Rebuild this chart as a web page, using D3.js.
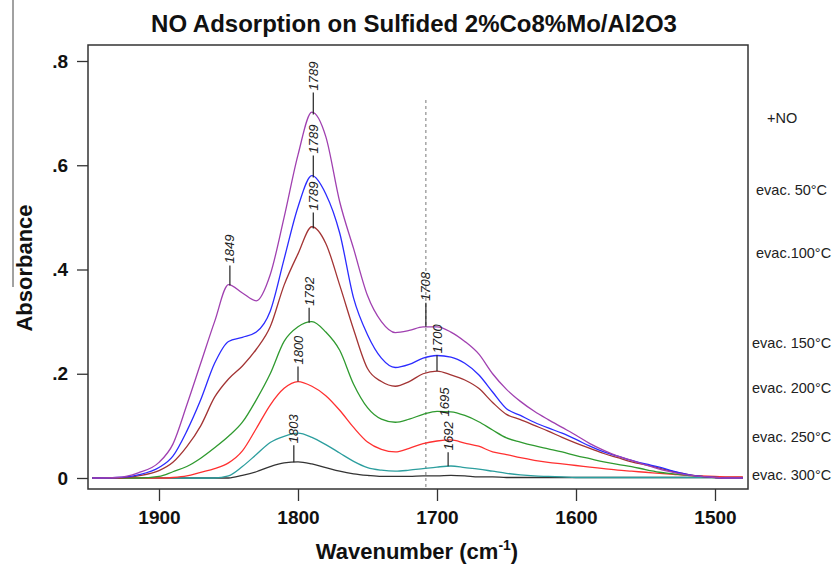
<html>
    <head>
        <script src="https://d3js.org/d3.v7.min.js"></script>
        <style>
            body{ margin:0; background:#fff; }
            svg{ font-family: "Liberation Sans", Arial, sans-serif; }
        </style>
    </head>
    <body>
        <svg id="svg" width="837" height="566"></svg>
        <script>
            // wavenumber grid (cm-1), shared by all spectra
            var wavenumbers = [1948,1930,1915,1900,1890,1880,1870,1860,1850,1840,1830,1820,1810,1800,1790,1780,1770,1760,1750,1740,1730,1720,1710,1700,1690,1680,1670,1660,1650,1640,1630,1620,1610,1600,1590,1580,1570,1560,1550,1540,1530,1520,1510,1500,1490,1480];

            var seriesNames = ["+NO","evac. 50\u00B0C","evac.100\u00B0C","evac. 150\u00B0C","evac. 200\u00B0C","evac. 250\u00B0C","evac. 300\u00B0C"];

            var absNO     = [0,0.001,0.01,0.03,0.065,0.14,0.22,0.30,0.371,0.355,0.34,0.39,0.50,0.62,0.702,0.655,0.53,0.44,0.35,0.30,0.279,0.283,0.29,0.29,0.28,0.262,0.238,0.20,0.17,0.147,0.128,0.112,0.097,0.082,0.066,0.053,0.042,0.034,0.025,0.017,0.011,0.006,0.003,0.001,0,0];
            var absEvac50  = [0,0.001,0.006,0.02,0.042,0.09,0.15,0.22,0.262,0.27,0.28,0.32,0.42,0.52,0.58,0.545,0.47,0.345,0.275,0.23,0.212,0.218,0.23,0.235,0.232,0.22,0.198,0.165,0.133,0.12,0.107,0.096,0.086,0.074,0.061,0.05,0.042,0.034,0.027,0.021,0.013,0.007,0.003,0.001,0,0];
            var absEvac100 = [0,0,0.004,0.014,0.03,0.06,0.10,0.155,0.19,0.215,0.247,0.29,0.37,0.43,0.482,0.45,0.37,0.285,0.21,0.185,0.176,0.185,0.20,0.205,0.198,0.188,0.172,0.145,0.122,0.112,0.101,0.09,0.078,0.067,0.057,0.047,0.039,0.031,0.025,0.019,0.012,0.007,0.003,0.001,0,0];
            var absEvac150 = [0,0,0,0.003,0.012,0.022,0.038,0.058,0.08,0.107,0.15,0.20,0.262,0.29,0.30,0.28,0.245,0.18,0.135,0.113,0.107,0.113,0.122,0.128,0.127,0.12,0.108,0.092,0.077,0.069,0.062,0.056,0.05,0.043,0.037,0.031,0.026,0.022,0.016,0.011,0.008,0.005,0.003,0.001,0,0];
            var absEvac200 = [0,0,0,0,0.001,0.004,0.011,0.018,0.029,0.052,0.095,0.14,0.172,0.185,0.176,0.158,0.13,0.097,0.069,0.055,0.05,0.057,0.066,0.071,0.073,0.067,0.061,0.05,0.045,0.039,0.034,0.03,0.027,0.024,0.021,0.018,0.015,0.013,0.011,0.009,0.007,0.005,0.004,0.003,0.002,0.002];
            var absEvac250 = [0,0,0,0,0,0,0,0,0.004,0.022,0.045,0.068,0.08,0.086,0.078,0.064,0.048,0.032,0.02,0.015,0.013,0.015,0.018,0.021,0.023,0.02,0.017,0.013,0.009,0.006,0.004,0.003,0.002,0.001,0.001,0.001,0.001,0.001,0.001,0.001,0.001,0.001,0.001,0.001,0.001,0.001];
            var absEvac300 = [0,0,0,0,0,0,0,0,0,0.005,0.012,0.022,0.029,0.031,0.027,0.02,0.013,0.008,0.005,0.003,0.003,0.003,0.004,0.004,0.005,0.004,0.002,0.002,0.001,0.001,0.001,0.001,0.001,0.001,0.001,0.001,0.001,0.001,0.001,0.001,0.001,0.001,0.001,0.001,0.001,0.001];

            var allSeries = [absNO, absEvac50, absEvac100, absEvac150, absEvac200, absEvac250, absEvac300];
            var seriesColors = ["#a040b0","#2b2bff","#a33434","#2f9a2f","#ff3030","#2c9e9e","#333333"];

            var yTicks = [0, 0.2, 0.4, 0.6, 0.8];
            var yTickLabels = ["0", ".2", ".4", ".6", ".8"];
            var xTicks = [1900, 1800, 1700, 1600, 1500];

            // peak markers: label text, wavenumber, which spectrum it sits on
            var peakLabels = [
                {text:"1849", wn:1849, series:0},
                {text:"1789", wn:1789, series:0},
                {text:"1789", wn:1789, series:1},
                {text:"1789", wn:1789, series:2},
                {text:"1792", wn:1792, series:3},
                {text:"1800", wn:1800, series:4},
                {text:"1803", wn:1803, series:6},
                {text:"1708", wn:1708, series:0},
                {text:"1700", wn:1700, series:2},
                {text:"1695", wn:1695, series:3},
                {text:"1692", wn:1692, series:5}
            ];
            var stemLen = [20, 22, 22, 16, 15, 15, 17, 24, 16, -7, 14];
            var dashedWn = 1708;

            // legend text y positions (px), right of the frame
            var legendY = [118, 190, 253, 343, 388, 437, 475];
            var legendX = [767, 756, 756, 752, 752, 752, 752];

            var svg = d3.select("svg");
            var frame = {left: 88, right: 748, top: 45, bottom: 489};

            var x = d3.scaleLinear().domain([1900, 1500]).range([159, 715]);
            var y = d3.scaleLinear().domain([0, 0.8]).range([478, 61]);

            // stray crop line on the left edge of the original figure
            svg.append("line").attr("x1",13).attr("x2",13).attr("y1",0).attr("y2",287)
                .attr("stroke","#444").attr("stroke-width",1);

            // title
            svg.append("text").attr("x",414).attr("y",32)
                .attr("text-anchor","middle")
                .attr("font-size","24px").attr("font-weight","bold")
                .attr("fill","#111")
                .text("NO Adsorption on Sulfided 2%Co8%Mo/Al2O3");

            // dashed reference line
            svg.append("line")
                .attr("x1",x(dashedWn)).attr("x2",x(dashedWn))
                .attr("y1",100).attr("y2",frame.bottom)
                .attr("stroke","#777").attr("stroke-width",1)
                .attr("stroke-dasharray","3,3");

            var line = d3.line()
                .x(function(d){ return x(d[0]); })
                .y(function(d){ return y(d[1]); })
                .curve(d3.curveMonotoneX);

            // draw bottom series first so the top ones sit over them
            for (var s = allSeries.length - 1; s >= 0; s--) {
                var pts = wavenumbers.map(function(w, i){ return [w, allSeries[s][i]]; });
                svg.append("path").datum(pts)
                    .attr("d", line)
                    .attr("fill","none")
                    .attr("stroke", seriesColors[s])
                    .attr("stroke-width",1.3);
            }

            function valueAt(series, wn){
                for (var i = 0; i < wavenumbers.length - 1; i++) {
                    var w0 = wavenumbers[i], w1 = wavenumbers[i+1];
                    if (wn <= w0 && wn >= w1) {
                        var t = (w0 - wn) / (w0 - w1);
                        return series[i] + t * (series[i+1] - series[i]);
                    }
                }
                return 0;
            }

            // peak stems + rotated labels
            peakLabels.forEach(function(p, i){
                var px = x(p.wn);
                var py = y(valueAt(allSeries[p.series], p.wn));
                var len = stemLen[i];
                if (len > 0) {
                    svg.append("line").attr("x1",px).attr("x2",px)
                        .attr("y1",py).attr("y2",py - len)
                        .attr("stroke","#222").attr("stroke-width",1.2);
                }
                svg.append("text")
                    .attr("transform","translate(" + (px + 4.6) + "," + (py - len - 2) + ") rotate(-90)")
                    .attr("font-size","13px").attr("font-style","italic").attr("fill","#222")
                    .text(p.text);
            });

            // frame
            svg.append("rect")
                .attr("x",frame.left).attr("y",frame.top)
                .attr("width",frame.right - frame.left).attr("height",frame.bottom - frame.top)
                .attr("fill","none").attr("stroke","#333").attr("stroke-width",1.5);

            // axes
            var yAxis = d3.axisLeft(y).tickValues(yTicks)
                .tickFormat(function(d, i){ return yTickLabels[i]; })
                .tickSize(11).tickSizeOuter(0).tickPadding(9);
            var gy = svg.append("g").attr("transform","translate(" + frame.left + ",0)").call(yAxis);
            gy.select(".domain").remove();

            var xAxis = d3.axisBottom(x).tickValues(xTicks)
                .tickFormat(d3.format("d"))
                .tickSize(12).tickSizeOuter(0).tickPadding(10);
            var gx = svg.append("g").attr("transform","translate(0," + frame.bottom + ")").call(xAxis);
            gx.select(".domain").remove();

            svg.selectAll(".tick line").attr("stroke","#333").attr("stroke-width",1.3);
            svg.selectAll(".tick text")
                .attr("font-family",'"Liberation Sans", Arial, sans-serif')
                .attr("font-size","19px").attr("font-weight","bold").attr("fill","#111");

            // axis titles
            var xt = svg.append("text").attr("x",417).attr("y",559)
                .attr("text-anchor","middle")
                .attr("font-size","22px").attr("font-weight","bold").attr("fill","#111");
            xt.append("tspan").text("Wavenumber (cm");
            xt.append("tspan").attr("font-size","14px").attr("dy",-9).text("-1");
            xt.append("tspan").attr("dy",9).text(")");

            svg.append("text")
                .attr("transform","translate(32,268) rotate(-90)")
                .attr("text-anchor","middle")
                .attr("font-size","22px").attr("font-weight","bold").attr("fill","#111")
                .text("Absorbance");

            // legend labels
            seriesNames.forEach(function(n, i){
                svg.append("text")
                    .attr("x",legendX[i]).attr("y",legendY[i])
                    .attr("dy","0.35em")
                    .attr("font-size","14.5px").attr("fill","#222")
                    .text(n);
            });
        </script>
    </body>
</html>
